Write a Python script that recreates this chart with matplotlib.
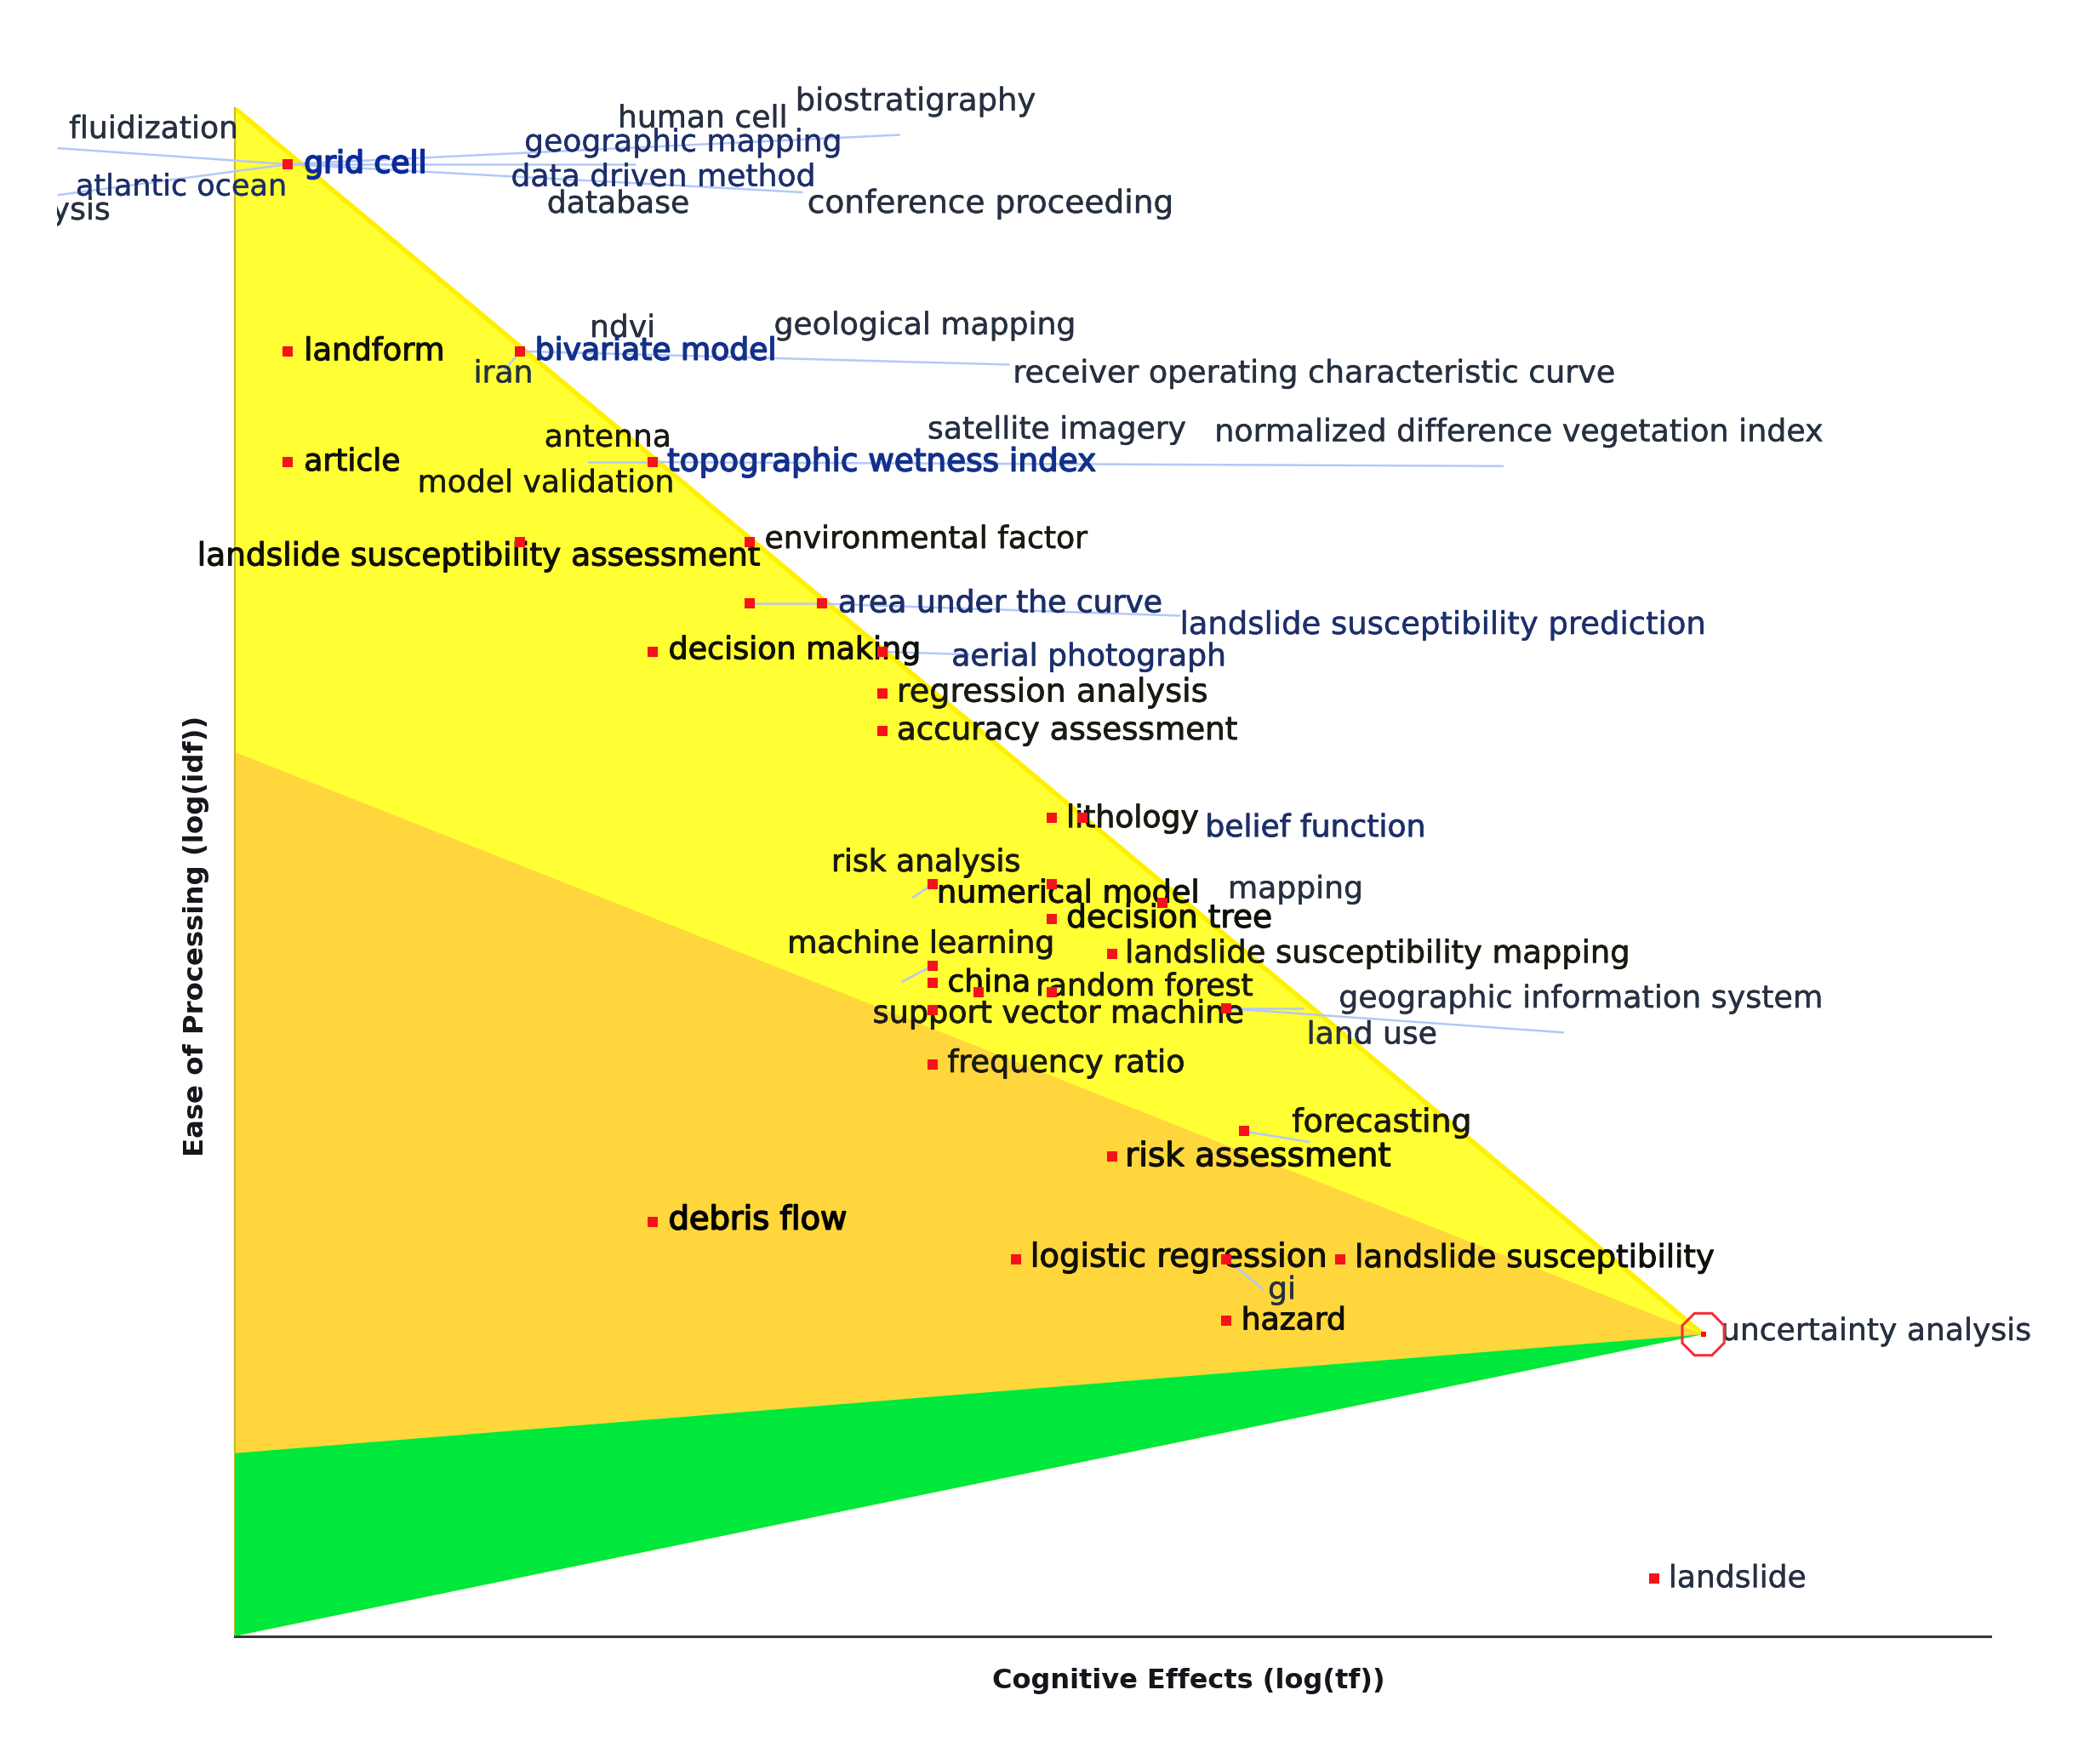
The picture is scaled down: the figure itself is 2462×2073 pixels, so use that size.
import matplotlib
matplotlib.use("Agg")
import matplotlib.pyplot as plt
import matplotlib.patheffects as pe
from matplotlib.patches import Polygon, RegularPolygon
from matplotlib.transforms import Bbox
import math

# marker positions (arbitrary log-score units)
point_x = [40, 40, 214, 40, 313, 214, 386, 386, 440, 313, 485, 485, 485, 612, 635, 523, 612, 695,
           612, 657, 523, 523, 557, 612, 523, 743, 523, 756, 657, 313, 585, 743, 828, 743, 1063]
point_y = [1102, 962, 962, 879, 879, 819, 819, 773, 773, 737, 737, 706, 678, 613, 613, 563, 563, 549,
           537, 511, 502, 489, 482, 482, 469, 470, 428, 378, 359, 310, 282, 282, 282, 236, 43]
focus_x, focus_y = [1100], [226]

label_names = ["fluidization", "human cell", "biostratigraphy", "geographic mapping", "atlantic ocean",
               "data driven method", "database", "conference proceeding", "ysis", "ndvi", "iran",
               "geological mapping", "receiver operating characteristic curve", "antenna", "model validation",
               "satellite imagery", "normalized difference vegetation index", "landslide susceptibility prediction",
               "grid cell", "landform", "bivariate model", "article", "topographic wetness index",
               "landslide susceptibility assessment", "environmental factor", "area under the curve",
               "decision making", "aerial photograph", "regression analysis", "accuracy assessment",
               "lithology", "belief function", "risk analysis", "numerical model", "mapping", "decision tree",
               "landslide susceptibility mapping", "machine learning", "china", "random forest",
               "support vector machine", "geographic information system", "land use", "frequency ratio",
               "forecasting", "risk assessment", "debris flow", "logistic regression", "gi",
               "landslide susceptibility", "hazard", "uncertainty analysis", "landslide"]
label_x = [-124, 287, 420, 217, -119, 207, 234, 429, -137, 266, 179, 404, 583, 232, 137, 519, 734, 708,
           52, 52, 225, 52, 324, -28, 397, 452, 325, 537, 496, 496, 623, 727, 447, 526, 744, 623, 667,
           414, 534, 600, 478, 827, 803, 534, 792, 667, 325, 596, 774, 839, 754, 1113, 1074]
label_y = [1129, 1137, 1150, 1119, 1086, 1093, 1073, 1073, 1068, 980, 946, 982, 946, 898, 864, 904, 902, 758,
           1103, 963, 963, 880, 880, 809, 822, 774, 739, 734, 707, 679, 613, 606, 580, 557, 560, 538, 512,
           519, 490, 487, 467, 478, 451, 430, 385, 360, 312, 284, 260, 284, 237, 229, 44]
label_colors = ["#263040", "#263040", "#263040", "#1c2f6a", "#1c2f6a", "#1c2f6a", "#263040", "#263040", "#263040", "#263040", "#263040",
                "#263040", "#263040", "#1a1a10", "#1a1a10", "#263040", "#263040", "#1c2f6a",
                "#0b2a9a", "#101008", "#13308a", "#101008", "#13308a", "#101008", "#1a1a10", "#1c2f6a",
                "#101008", "#1c2f6a", "#1a1a10", "#1a1a10", "#1a1a10", "#1c2f6a", "#1a1a10", "#101008", "#263040", "#101008",
                "#1a1a10", "#1a1a10", "#101008", "#1a1a10", "#1a1a10", "#263040", "#263040", "#1a1a10",
                "#1a1a10", "#101008", "#000000", "#101008", "#263040", "#101008", "#101008", "#263040", "#263040"]
label_strokes = [0.3] * 18 + [1.3, 0.8, 1.1, 0.8, 1.1, 0.8, 0.5, 0.6,
                 0.8, 0.5, 0.5, 0.6, 0.7, 0.5, 0.6, 0.8, 0.3, 0.8,
                 0.5, 0.6, 0.6, 0.6, 0.6, 0.3, 0.4, 0.6,
                 0.6, 0.9, 1.2, 0.8, 0.4, 0.7, 0.8, 0.3, 0.3]
label_sizes = [26, 26, 26.6, 26, 25.2, 26, 26, 27, 26, 26, 26,
               26, 26.2, 26, 26, 26, 26.2, 26.6,
               26, 26.5, 26, 26, 26.9, 27, 26, 26,
               26.2, 26, 27.5, 26.8, 26, 26, 26, 26.4, 26, 27,
               26.5, 26, 26, 26, 26.3, 26.2, 26, 26.3,
               27.2, 28, 27.6, 27.7, 26, 26.7, 26, 26, 26]

# thin links between a point and its displaced label
link_x0 = [40, 40, 40, 40, 40, 214, 313, 313, 386, 440, 485, 743, 743, 756, 743, 523, 523, 214]
link_y0 = [1102, 1102, 1102, 1102, 1102, 962, 879, 879, 773, 773, 737, 470, 470, 378, 282, 563, 502, 962]
link_x1 = [498, -132, -132, 425, 300, 580, 950, 265, 440, 708, 550, 995, 800, 805, 770, 508, 500, 200]
link_y1 = [1124, 1114, 1079, 1081, 1102, 952, 876, 879, 773, 764, 735, 452, 470, 370, 260, 553, 490, 945]

# coloured regions
yellow_x = [0, 1100, 0]
yellow_y = [1144, 226, 0]
orange_x = [0, 1100, 0]
orange_y = [662, 226, 137]
green_x = [0, 1100, 0]
green_y = [137, 226, 0]

x_title = "Cognitive Effects (log(tf))"
y_title = "Ease of Processing (log(idf))"

W, H = 2462, 2073
K = 1.569
fig = plt.figure(figsize=(W / 100, H / 100), dpi=100, facecolor="white")
L, R, T, B = 175.7 * K, 1490.7 * K, 81 * K, 1225.5 * K
ax = fig.add_axes([L / W, 1 - B / H, (R - L) / W, (B - T) / H])
ax.set_xlim(0, 1315)
ax.set_ylim(0, 1144)
ax.patch.set_alpha(0)
for s in ("top", "right"):
    ax.spines[s].set_visible(False)
ax.spines["bottom"].set_color("#333a3a")
ax.spines["bottom"].set_linewidth(2.2)
ax.spines["left"].set_color("#c8b82a")
ax.spines["left"].set_linewidth(1.5)
ax.set_xticks([])
ax.set_yticks([])

ax.add_patch(Polygon(list(zip(yellow_x, yellow_y)), closed=True, fc="#FFFF33", ec="none", zorder=1))
ax.plot(yellow_x[:2], yellow_y[:2], color="#FFF000", lw=4, zorder=1.5, solid_capstyle="butt")
ax.add_patch(Polygon(list(zip(orange_x, orange_y)), closed=True, fc="#FFD63C", ec="none", zorder=2))
ax.add_patch(Polygon(list(zip(green_x, green_y)), closed=True, fc="#00E83C", ec="none", zorder=3))

clip = Bbox([[43 * K, 0], [W, H]])
for x0, y0, x1, y1 in zip(link_x0, link_y0, link_x1, link_y1):
    ax.plot([x0, x1], [y0, y1], color="#b4c8f7", lw=1.8, zorder=4, clip_on=False, solid_capstyle="round")

for name, x, y, c, st, fs in zip(label_names, label_x, label_y, label_colors, label_strokes, label_sizes):
    t = ax.text(x, y - 1, name, color=c, fontsize=fs, ha="left", va="center",
                family="DejaVu Sans", zorder=5, clip_on=True,
                path_effects=[pe.withStroke(linewidth=st, foreground=c)])
    t.set_clip_box(clip)

ax.scatter(point_x, point_y, marker="s", s=85, color="#F5121A", linewidths=0, zorder=6, clip_on=False)
ax.scatter(focus_x, focus_y, marker="s", s=22, color="#F5121A", linewidths=0, zorder=6, clip_on=False)
ax.add_patch(RegularPolygon((focus_x[0], focus_y[0]), numVertices=8, radius=17, orientation=math.pi / 8,
                            fc="none", ec="#F0303A", lw=2.2, zorder=6, clip_on=False))

fig.text(890 * K / W, 1 - 1259 * K / H, x_title, fontsize=23, fontweight="bold", color="#15151c",
         ha="center", va="center", family="DejaVu Sans")
fig.text(147 * K / W, 1 - 701 * K / H, y_title, fontsize=23.3, fontweight="bold", color="#15151c",
         rotation=90, ha="center", va="center", family="DejaVu Sans")

fig.savefig("out.png", dpi=100, facecolor="white")
